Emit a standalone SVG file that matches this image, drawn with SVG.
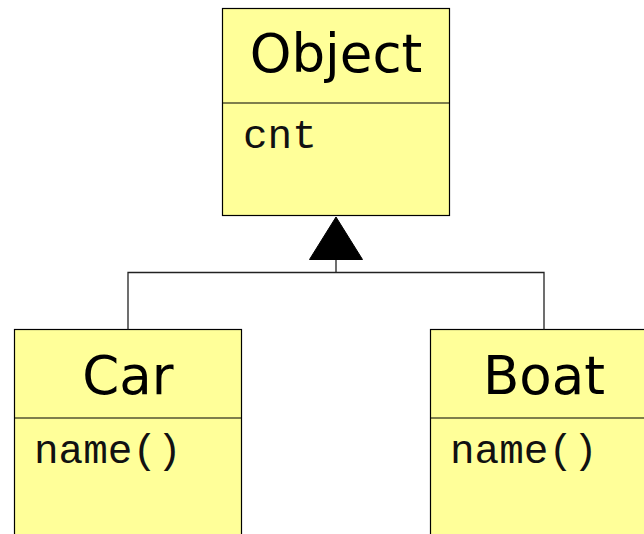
<svg xmlns="http://www.w3.org/2000/svg" width="644" height="534" viewBox="0 0 644 534">
<defs>
<style>
.box{fill:#ffff99;stroke:#000;stroke-width:1.2}
.div{stroke:#000;stroke-width:1.2}
.title{font-family:"DejaVu Sans","Verdana",sans-serif;font-size:53px;fill:#000;text-anchor:middle}
.attr{font-family:"Liberation Mono","Courier New",monospace;font-size:41px;fill:#111}
.conn{fill:none;stroke:#222;stroke-width:1.3}
</style>
</defs>
<rect width="644" height="534" fill="#fff"/>
<g id="Object">
<rect class="box" x="222.5" y="8.5" width="227" height="207"/>
<line class="div" x1="222.5" y1="103" x2="449.5" y2="103"/>
<text class="title" x="336" y="72">Object</text>
<text class="attr" x="243" y="148">cnt</text>
</g>
<g id="Car">
<rect class="box" x="14.5" y="329.5" width="227" height="220"/>
<line class="div" x1="14.5" y1="418" x2="241.5" y2="418"/>
<text class="title" x="128" y="394">Car</text>
<text class="attr" x="34" y="463">name()</text>
</g>
<g id="Boat">
<rect class="box" x="430.5" y="329.5" width="227" height="220"/>
<line class="div" x1="430.5" y1="418" x2="657.5" y2="418"/>
<text class="title" x="544" y="394">Boat</text>
<text class="attr" x="450" y="463">name()</text>
</g>
<g id="connectors">
<path class="conn" d="M128 329.5V272.5H544V329.5M336 272.5V259"/>
<polygon points="336,217 309.5,259.5 362.5,259.5" fill="#000" stroke="#000" stroke-width="1"/>
</g>
</svg>
